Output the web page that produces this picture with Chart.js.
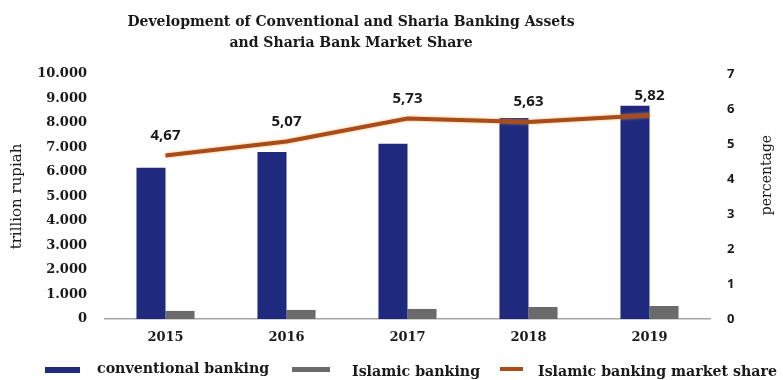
<!DOCTYPE html>
<html lang="en">
<head>
  <meta charset="UTF-8">
  <title>Conventional and Sharia Banking Assets</title>
  <script src="https://cdn.jsdelivr.net/npm/chart.js"></script>
  <style>
    body{
      margin: 0;
      background: #fff;
    }
    #wrap{
      position: relative;
      width: 783px;
      height: 380px;
    }
    #title{
      position: absolute;
      left: 0;
      top: 11px;
      width: 702px;
      text-align: center;
      font: bold 14px 'DejaVu Serif', serif;
      line-height: 21px;
      color: #1a1a1a;
    }
    .leg_box{
      position: absolute;
    }
    .leg_text{
      position: absolute;
      font: bold 14.2px 'DejaVu Serif', serif;
      line-height: 15px;
      color: #1a1a1a;
      white-space: nowrap;
    }
  </style>
</head>
<body>
  <div id="wrap">
    <canvas id="assetChart" width="783" height="380"></canvas>
    <div id="title">Development of Conventional and Sharia Banking Assets<br>and Sharia Bank Market Share</div>
    <div id="legend"></div>
  </div>

<script>
  const years = ['2015', '2016', '2017', '2018', '2019'];
  // trillion rupiah
  const conventionalAssets = [6170, 6820, 7150, 8200, 8700];
  const islamicAssets = [330, 370, 410, 490, 530];
  // percent
  const marketShare = [4.67, 5.07, 5.73, 5.63, 5.82];

  const seriesNames = ['conventional banking', 'Islamic banking', 'Islamic banking market share'];
  const seriesColors = ['#1f2a7e', '#6a6a6a', '#a84c1a'];

  // legend swatch / text placement under the plot
  const legendLayout = [
    {box: [45, 367, 35, 6], text: [97, 361]},
    {box: [292, 367, 38, 5], text: [352, 364]},
    {box: [500, 367, 23, 4], text: [538, 364]}
  ];

  const serif = "'DejaVu Serif', serif";
  const sans = "'Open Sans', sans-serif";

  // value labels above the market share line
  const shareLabels = {
    id: 'shareLabels',
    afterDatasetsDraw(chart) {
      const ctx = chart.ctx;
      const meta = chart.getDatasetMeta(2);
      ctx.save();
      ctx.font = 'bold 15px ' + sans;
      ctx.fillStyle = '#1a1a1a';
      ctx.textAlign = 'center';
      ctx.textBaseline = 'middle';
      meta.data.forEach((pt, i) => {
        ctx.fillText(marketShare[i].toFixed(2).replace('.', ','), pt.x, pt.y - 20);
      });
      ctx.restore();
    }
  };

  // soft orange edge around the share line
  const lineGlow = {
    id: 'lineGlow',
    beforeDatasetDraw(chart, args) {
      if (args.index !== 2) return;
      chart.ctx.save();
      chart.ctx.shadowColor = 'rgba(245, 160, 70, 0.8)';
      chart.ctx.shadowBlur = 3;
    },
    afterDatasetDraw(chart, args) {
      if (args.index !== 2) return;
      chart.ctx.restore();
    }
  };

  // right axis title reads bottom-to-top like the left one
  const rightTitle = {
    id: 'rightTitle',
    afterDraw(chart) {
      const ctx = chart.ctx;
      ctx.save();
      ctx.translate(767, 175);
      ctx.rotate(-Math.PI / 2);
      ctx.font = '14px ' + serif;
      ctx.fillStyle = '#1a1a1a';
      ctx.textAlign = 'center';
      ctx.textBaseline = 'middle';
      ctx.fillText('percentage', 0, 0);
      ctx.restore();
    }
  };

  const ctx = document.getElementById('assetChart').getContext('2d');
  const assetChart = new Chart(ctx, {
    type: 'bar',
    data: {
      labels: years,
      datasets: [
        {
          label: seriesNames[0],
          data: conventionalAssets,
          backgroundColor: seriesColors[0],
          yAxisID: 'y',
          order: 1
        },
        {
          label: seriesNames[1],
          data: islamicAssets,
          backgroundColor: seriesColors[1],
          yAxisID: 'y',
          order: 1
        },
        {
          type: 'line',
          label: seriesNames[2],
          data: marketShare,
          borderColor: seriesColors[2],
          borderWidth: 4,
          pointRadius: 0,
          tension: 0,
          yAxisID: 'y1',
          order: 0
        }
      ]
    },
    options: {
      responsive: false,
      animation: false,
      layout: {
        padding: {top: 74, left: 0, right: 0, bottom: 0}
      },
      datasets: {
        bar: {
          categoryPercentage: 0.48,
          barPercentage: 1
        }
      },
      plugins: {
        legend: {display: false},
        tooltip: {enabled: false}
      },
      scales: {
        x: {
          grid: {display: false, drawTicks: false},
          border: {display: true, color: '#a6a6a6', width: 1.5},
          ticks: {
            padding: 11,
            color: '#1a1a1a',
            font: {family: serif, size: 13, weight: 'bold'}
          },
          afterFit: s => { s.height = 61; }
        },
        y: {
          position: 'left',
          min: 0,
          max: 10000,
          grid: {display: false, drawTicks: false},
          border: {display: false},
          ticks: {
            stepSize: 1000,
            padding: 18,
            color: '#1a1a1a',
            font: {family: serif, size: 13, weight: 'bold'},
            callback: v => v === 0 ? '0' : v.toLocaleString('de-DE')
          },
          title: {
            display: true,
            text: 'trillion rupiah',
            color: '#1a1a1a',
            font: {family: serif, size: 15},
            padding: {top: 8, bottom: 0}
          },
          afterFit: s => { s.width = 105; }
        },
        y1: {
          position: 'right',
          min: 0,
          max: 7,
          grid: {display: false, drawTicks: false},
          border: {display: false},
          ticks: {
            stepSize: 1,
            padding: 17,
            color: '#1a1a1a',
            font: {family: sans, size: 13, weight: 'bold'}
          },
          afterFit: s => { s.width = 73; }
        }
      }
    },
    plugins: [lineGlow, shareLabels, rightTitle]
  });

  // legend built from the dataset names and colours
  const legend = document.getElementById('legend');
  legendLayout.forEach((item, i) => {
    const box = document.createElement('div');
    box.className = 'leg_box';
    box.style.left = item.box[0] + 'px';
    box.style.top = item.box[1] + 'px';
    box.style.width = item.box[2] + 'px';
    box.style.height = item.box[3] + 'px';
    box.style.background = seriesColors[i];
    legend.appendChild(box);

    const txt = document.createElement('div');
    txt.className = 'leg_text';
    txt.style.left = item.text[0] + 'px';
    txt.style.top = item.text[1] + 'px';
    txt.textContent = seriesNames[i];
    legend.appendChild(txt);
  });
</script>
</body>
</html>
